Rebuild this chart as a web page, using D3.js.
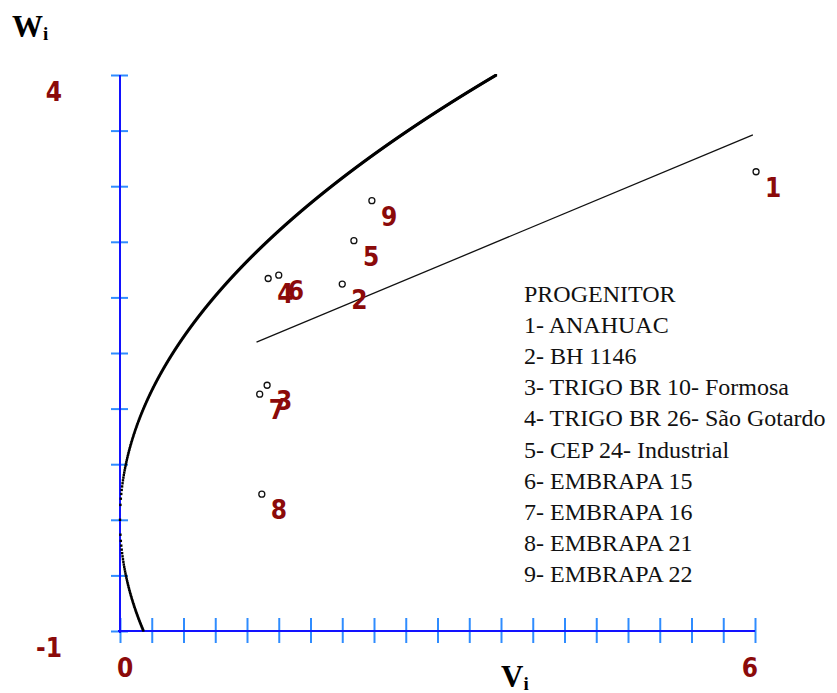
<!DOCTYPE html>
<html>
<head>
<meta charset="utf-8">
<script src="https://cdn.jsdelivr.net/npm/d3@7"></script>
<style>
  html, body { margin: 0; padding: 0; background: #fff; }
  svg { display: block; }
  .num { font-family: "Liberation Sans Narrow", "Arial Narrow", "DejaVu Sans Condensed", sans-serif; font-weight: bold; fill: #8b0a0a; }
  .axis-title { font-family: "Liberation Serif", "Times New Roman", serif; font-weight: bold; fill: #000; }
  .legend { font-family: "Liberation Serif", "Times New Roman", serif; fill: #111; }
</style>
</head>
<body>
<svg id="chart" width="837" height="693"></svg>
<script>
// Progenitors: identifier, name, variance of the array (Vi) and covariance (Wi)
const progenitorIds = [1, 2, 3, 4, 5, 6, 7, 8, 9];
const progenitorNames = [
  "ANAHUAC",
  "BH 1146",
  "TRIGO BR 10- Formosa",
  "TRIGO BR 26- São Gotardo",
  "CEP 24- Industrial",
  "EMBRAPA 15",
  "EMBRAPA 16",
  "EMBRAPA 21",
  "EMBRAPA 22"
];
const viValues = [6.01, 2.10, 1.39, 1.40, 2.21, 1.50, 1.32, 1.34, 2.38];
const wiValues = [3.13, 2.12, 1.21, 2.17, 2.51, 2.20, 1.13, 0.23, 2.87];

// Parental variance that defines the limiting parabola Wi² = Vi · Vp
const parentVariance = 4.5;

// Axis ticks and labels
const xTickValues = d3.range(21).map(i => +(i * 0.3).toFixed(1));
const yTickValues = d3.range(11).map(i => -1 + i * 0.5);
const xTickLabels = [{ v: 0, t: "0", anchor: "start", dx: -3 }, { v: 6, t: "6", anchor: "end", dx: 3 }];
const yTickLabels = [{ v: 4, t: "4" }, { v: -1, t: "-1" }];

const svg = d3.select("#chart");

const x = d3.scaleLinear().domain([0, 6]).range([120, 755]);
const y = d3.scaleLinear().domain([-1, 4]).range([631, 75]);

// ---- axes ----
const axisBlue = "#1212ff";
const tickBlue = "#2f8cff";

const xAxisG = svg.append("g").attr("transform", `translate(0,${y(-1)})`)
  .call(d3.axisBottom(x).tickValues(xTickValues).tickSizeInner(12).tickSizeOuter(0).tickFormat(""));
xAxisG.select(".domain").remove();
xAxisG.selectAll(".tick line").attr("y1", -13).attr("y2", 12)
  .attr("stroke", tickBlue).attr("stroke-width", 2);

const yAxisG = svg.append("g").attr("transform", `translate(${x(0)},0)`)
  .call(d3.axisLeft(y).tickValues(yTickValues).tickSizeInner(9).tickSizeOuter(0).tickFormat(""));
yAxisG.select(".domain").remove();
yAxisG.selectAll(".tick line").attr("x1", 8).attr("x2", -9)
  .attr("stroke", tickBlue).attr("stroke-width", 2);

svg.append("line")
  .attr("x1", x(0) - 2).attr("x2", x(6))
  .attr("y1", y(-1)).attr("y2", y(-1))
  .attr("stroke", axisBlue).attr("stroke-width", 2);
svg.append("line")
  .attr("x1", x(0)).attr("x2", x(0))
  .attr("y1", y(4)).attr("y2", y(-1) + 2)
  .attr("stroke", axisBlue).attr("stroke-width", 2);

// tick labels
svg.selectAll(".ylab").data(yTickLabels).enter().append("text")
  .attr("class", "num")
  .attr("x", 62).attr("y", d => y(d.v) + 26)
  .attr("text-anchor", "end")
  .attr("font-size", 26)
  .text(d => d.t);

svg.selectAll(".xlab").data(xTickLabels).enter().append("text")
  .attr("class", "num")
  .attr("x", d => x(d.v) + d.dx).attr("y", y(-1) + 46)
  .attr("text-anchor", d => d.anchor)
  .attr("font-size", 26)
  .text(d => d.t);

// axis titles
const wt = svg.append("text").attr("class", "axis-title").attr("x", 12).attr("y", 37).attr("font-size", 31);
wt.append("tspan").text("W");
wt.append("tspan").attr("font-size", 19).attr("dy", 3).text("i");

const vt = svg.append("text").attr("class", "axis-title").attr("x", 501).attr("y", 687).attr("font-size", 31);
vt.append("tspan").text("V");
vt.append("tspan").attr("font-size", 19).attr("dy", 3).text("i");

// ---- limiting parabola, plotted point by point along Vi ----
const [wMin, wMax] = y.domain();
const vStep = 0.004;
const vLimit = Math.max(wMin * wMin, wMax * wMax) / parentVariance;
const parabolaPts = [];
for (let k = 0; k * vStep <= vLimit + 1e-9; k++) {
  const v = k * vStep;
  const w = Math.sqrt(v * parentVariance);
  if (w <= wMax) parabolaPts.push([v, w]);
  if (-w >= wMin && k > 0) parabolaPts.push([v, -w]);
}
svg.append("g").selectAll("rect").data(parabolaPts).enter().append("rect")
  .attr("x", d => x(d[0]) - 1.2)
  .attr("y", d => y(d[1]) - 1.2)
  .attr("width", 2.4).attr("height", 2.4)
  .attr("fill", "#000");

// ---- least-squares regression of Wi on Vi ----
const mv = d3.mean(viValues), mw = d3.mean(wiValues);
const slope = d3.sum(viValues, (v, i) => (v - mv) * (wiValues[i] - mw)) /
              d3.sum(viValues, v => (v - mv) * (v - mv));
const intercept = mw - slope * mv;
const [vLo, vHi] = d3.extent(viValues);
svg.append("line")
  .attr("x1", x(vLo - 0.03)).attr("y1", y(intercept + slope * (vLo - 0.03)))
  .attr("x2", x(vHi - 0.03)).attr("y2", y(intercept + slope * (vHi - 0.03)))
  .attr("stroke", "#111").attr("stroke-width", 1.3);

// ---- progenitor points and their numbers ----
const pts = progenitorIds.map((id, i) => ({ id, v: viValues[i], w: wiValues[i] }));

svg.append("g").selectAll("circle").data(pts).enter().append("circle")
  .attr("cx", d => x(d.v)).attr("cy", d => y(d.w)).attr("r", 3)
  .attr("fill", "none").attr("stroke", "#111").attr("stroke-width", 1.3);

svg.append("g").selectAll("text").data(pts).enter().append("text")
  .attr("class", "num")
  .attr("x", d => x(d.v) + 9).attr("y", d => y(d.w) + 25)
  .attr("font-size", 26)
  .text(d => d.id);

// ---- legend ----
const legendLines = ["PROGENITOR"].concat(progenitorIds.map((id, i) => `${id}- ${progenitorNames[i]}`));
svg.append("g").selectAll("text").data(legendLines).enter().append("text")
  .attr("class", "legend")
  .attr("x", 524).attr("y", (d, i) => 302 + i * 31.1)
  .attr("font-size", 24)
  .text(d => d);
</script>
</body>
</html>
